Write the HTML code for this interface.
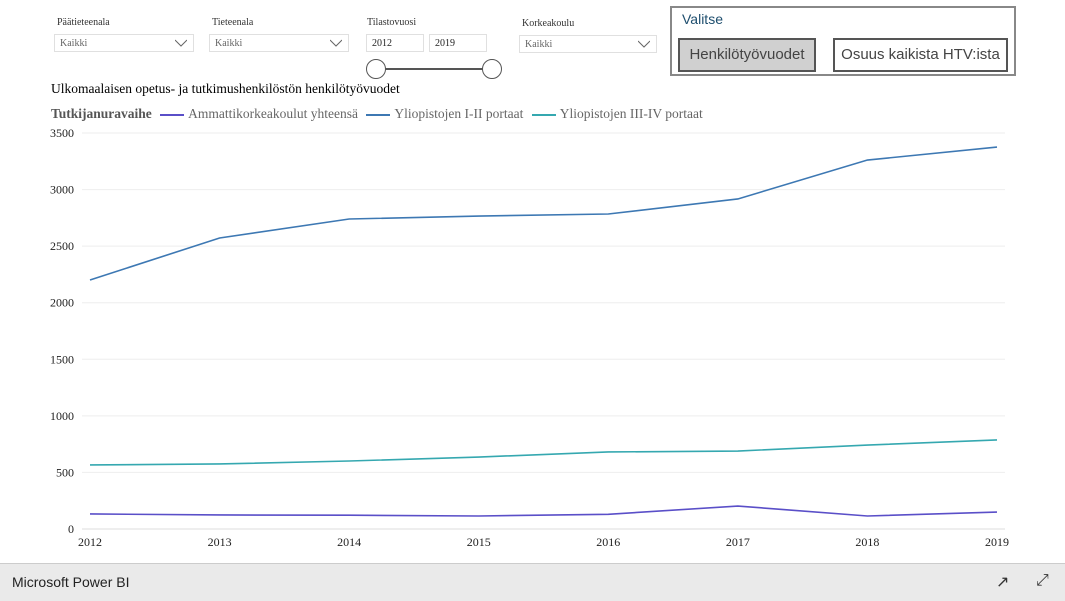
<!DOCTYPE html>
<html><head><meta charset="utf-8"><style>
body{margin:0;width:1065px;height:600px;background:#fff;position:relative;overflow:hidden;font-family:"Liberation Serif",serif}
.abs{position:absolute}
.lbl{font-size:10px;color:#333}
.dd{border:1px solid #e0e0e0;height:18px;font-size:10px;color:#666;line-height:18px;padding-left:5px;box-sizing:border-box}
.chev{position:absolute;right:6px;top:4px}
.btn{position:absolute;border:2px solid #555;font-family:"Liberation Sans",sans-serif;font-size:15px;color:#444;text-align:center;line-height:28px;box-sizing:border-box}
.sw{display:inline-block;width:24px;height:2px;vertical-align:middle;margin:0 4px 0 5px}
</style></head><body>
<div class="abs lbl" style="left:57px;top:17px">Päätieteenala</div>
<div class="abs dd" style="left:54px;top:34px;width:140px">Kaikki<svg class="chev" width="12" height="8"><polyline points="0,1 6,7 12,1" fill="none" stroke="#666"/></svg></div>
<div class="abs lbl" style="left:212px;top:17px">Tieteenala</div>
<div class="abs dd" style="left:209px;top:34px;width:140px">Kaikki<svg class="chev" width="12" height="8"><polyline points="0,1 6,7 12,1" fill="none" stroke="#666"/></svg></div>
<div class="abs lbl" style="left:367px;top:17px">Tilastovuosi</div>
<div class="abs dd" style="left:366px;top:34px;width:58px;color:#222">2012</div>
<div class="abs dd" style="left:429px;top:34px;width:58px;color:#222">2019</div>
<div class="abs" style="left:376px;top:68px;width:116px;height:2px;background:#555"></div>
<div class="abs" style="left:366px;top:59px;width:18px;height:18px;border:1.5px solid #555;border-radius:50%;background:#fff"></div>
<div class="abs" style="left:482px;top:59px;width:18px;height:18px;border:1.5px solid #555;border-radius:50%;background:#fff"></div>
<div class="abs lbl" style="left:522px;top:18px">Korkeakoulu</div>
<div class="abs dd" style="left:519px;top:35px;width:138px">Kaikki<svg class="chev" width="12" height="8"><polyline points="0,1 6,7 12,1" fill="none" stroke="#666"/></svg></div>
<div class="abs" style="left:670px;top:6px;width:346px;height:70px;border:2px solid #888;box-sizing:border-box">
<div class="abs" style="left:10px;top:3px;font-family:'Liberation Sans',sans-serif;font-size:14px;color:#1e4e6e">Valitse</div>
<div class="btn" style="left:6px;top:30px;width:138px;height:34px;background:#d0d0d0;line-height:30px">Henkilötyövuodet</div>
<div class="btn" style="left:161px;top:30px;width:175px;height:34px;line-height:30px">Osuus kaikista HTV:ista</div>
</div>
<div class="abs" style="left:51px;top:81px;font-size:13.5px;color:#000">Ulkomaalaisen opetus- ja tutkimushenkilöstön henkilötyövuodet</div>
<div class="abs" style="left:51px;top:106px;font-size:13.5px;color:#666;white-space:nowrap">
<b style="color:#555">Tutkijanuravaihe</b>
<span><span class="sw" style="background:#5a4fc8"></span>Ammattikorkeakoulut yhteensä</span>
<span><span class="sw" style="background:#3d78b3"></span>Yliopistojen I-II portaat</span>
<span><span class="sw" style="background:#35a8b0"></span>Yliopistojen III-IV portaat</span>
</div>
<svg class="abs" style="left:0;top:0" width="1065" height="560" id="chart"></svg>
<div class="abs" style="left:0;top:563px;width:1065px;height:37px;background:#eaeaea;border-top:1px solid #ccc">
<div class="abs" style="left:12px;top:10px;font-family:'Liberation Sans',sans-serif;font-size:14px;color:#222">Microsoft Power BI</div>
<div class="abs" style="left:996px;top:8px;font-size:16px;color:#333">&#8599;</div>
<div class="abs" style="left:1036px;top:8px;font-size:16px;color:#333">&#10530;</div>
</div>
<script>
const years=[2012,2013,2014,2015,2016,2017,2018,2019];
const yTicks=[0,500,1000,1500,2000,2500,3000,3500];
const amk=[133,124,122,115,130,203,115,150];
const yo12=[2201,2572,2740,2766,2784,2917,3261,3376];
const yo34=[566,575,601,636,681,689,742,787];
const NS="http://www.w3.org/2000/svg";
const svg=document.getElementById('chart');
const X=i=>90+i*(997-90)/(years.length-1);
const Y=v=>529-v*(529-133)/3500;
function mk(t,a){const e=document.createElementNS(NS,t);for(const k in a)e.setAttribute(k,a[k]);svg.appendChild(e);return e;}
yTicks.forEach(t=>{
 const l=mk('line',{x1:82,x2:1005,y1:Y(t),y2:Y(t),stroke:t===0?'#ddd':'#eee','stroke-width':1});
 
 
 const tx=mk('text',{x:74,y:Y(t)+4,'text-anchor':'end','font-size':12,'font-family':'Liberation Serif',fill:'#222'});
 tx.textContent=t;
 
 
});
years.forEach((yr,i)=>{
 const tx=mk('text',{x:X(i),y:546,'text-anchor':'middle','font-size':12,'font-family':'Liberation Serif',fill:'#222'});
 tx.textContent=yr;
 
 
});
[[amk,'#5a4fc8','line-amk'],[yo12,'#3d78b3','line-yo-1-2'],[yo34,'#35a8b0','line-yo-3-4']].forEach(([d,c,n])=>{
 const p=mk('polyline',{points:d.map((v,i)=>X(i)+','+Y(v)).join(' '),fill:'none',stroke:c,'stroke-width':1.6});
 
 
});
</script>
</body></html>
